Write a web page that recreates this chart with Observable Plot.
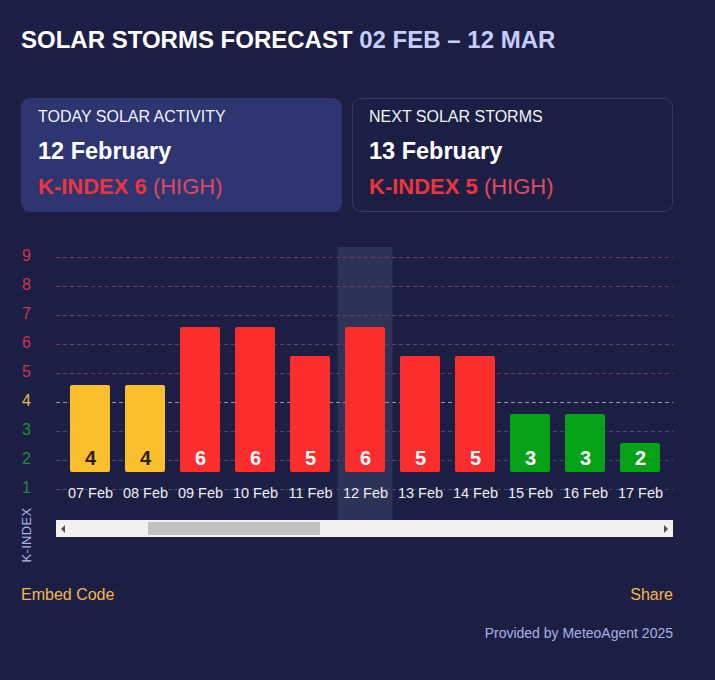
<!DOCTYPE html>
<html>
<head>
<meta charset="utf-8">
<script src="https://cdn.jsdelivr.net/npm/d3@7"></script>
<script src="https://cdn.jsdelivr.net/npm/@observablehq/plot@0.6"></script>
<style>
  html, body { margin: 0; padding: 0; }
  body { width: 715px; height: 680px; background: #1c1f43; font-family: "Liberation Sans", Arial, sans-serif; position: relative; overflow: hidden; }
  .abs { position: absolute; white-space: nowrap; }
  #title { left: 21px; top: 26px; font-size: 24px; font-weight: bold; color: #ffffff; }
  #title span { color: #c7cdff; }
  .card { position: absolute; top: 98px; width: 321px; height: 114px; border-radius: 9px; box-sizing: border-box; }
  #card1 { left: 21px; background: #2e3571; }
  #card2 { left: 352px; background: #1c1f43; border: 1px solid #33386a; }
  .card .lbl { position: absolute; left: 17px; top: 10px; font-size: 16px; color: #f2f3fa; }
  .card .date { position: absolute; left: 17px; top: 40px; font-size: 23.5px; font-weight: bold; color: #ffffff; }
  .card .k { position: absolute; left: 17px; top: 76px; font-size: 22px; color: #df4a62; }
  .card .k b { color: #ea3440; }
  #card2 .lbl { left: 16px; top: 9px; }
  #card2 .date { left: 16px; top: 39px; }
  #card2 .k { left: 16px; top: 75px; }
  #chart { position: absolute; left: 0; top: 240px; }
  #klabel { left: 26px; top: 535px; transform: translate(-50%, -50%) rotate(-90deg); font-size: 13px; color: #abb3ea; letter-spacing: 0.3px; }
  #track { position: absolute; left: 56px; top: 520px; width: 617px; height: 17px; background: #f1f1f1; }
  #thumb { position: absolute; left: 92px; top: 2px; width: 172px; height: 13px; background: #c1c1c1; }
  #arrL { position: absolute; left: 5px; top: 5px; width: 0; height: 0; border-top: 4px solid transparent; border-bottom: 4px solid transparent; border-right: 4px solid #505050; }
  #arrR { position: absolute; right: 5px; top: 5px; width: 0; height: 0; border-top: 4px solid transparent; border-bottom: 4px solid transparent; border-left: 4px solid #505050; }
  #embed { left: 21px; top: 586px; font-size: 16px; color: #f2b84f; }
  #share { right: 42px; top: 586px; font-size: 16px; color: #f2b84f; }
  #prov { right: 42px; top: 625px; font-size: 14px; color: #a9b1e4; }
</style>
</head>
<body>
<div id="title" class="abs">SOLAR STORMS FORECAST <span>02 FEB – 12 MAR</span></div>

<div id="card1" class="card">
  <div class="lbl">TODAY SOLAR ACTIVITY</div>
  <div class="date">12 February</div>
  <div class="k"><b>K-INDEX 6</b> (HIGH)</div>
</div>
<div id="card2" class="card">
  <div class="lbl">NEXT SOLAR STORMS</div>
  <div class="date">13 February</div>
  <div class="k"><b>K-INDEX 5</b> (HIGH)</div>
</div>

<div id="chart"></div>
<div id="klabel" class="abs">K-INDEX</div>
<div id="track"><div id="arrL"></div><div id="thumb"></div><div id="arrR"></div></div>

<div id="embed" class="abs">Embed Code</div>
<div id="share" class="abs">Share</div>
<div id="prov" class="abs">Provided by MeteoAgent 2025</div>

<script>
// ---- data ----
const dates = ["07 Feb", "08 Feb", "09 Feb", "10 Feb", "11 Feb", "12 Feb", "13 Feb", "14 Feb", "15 Feb", "16 Feb", "17 Feb"];
const kIndex = [4, 4, 6, 6, 5, 6, 5, 5, 3, 3, 2];
const levels = [1, 2, 3, 4, 5, 6, 7, 8, 9];
const today = ["12 Feb"];

// ---- helpers ----
const barColor = k => k >= 5 ? "#fc2d2d" : k === 4 ? "#fbbf2d" : "#05a116";
const labelColor = k => k >= 5 ? "#cb3652" : k === 4 ? "#e9b94d" : "#1f8a3c";
const gridColor = k => k >= 5 ? "#6c3a62" : k === 4 ? "#9a989c" : "#474a72";
const valueColor = k => k === 4 ? "#2b2118" : "#ffffff";

const rows = dates.map((d, i) => ({date: d, k: kIndex[i]}));
const baseline = 1;
const yDomain = [-0.655, 8.759];

const chart = Plot.plot({
  width: 715,
  height: 300,
  marginLeft: 62.5,
  marginRight: 47.5,
  marginTop: 7,
  marginBottom: 20,
  style: {background: "transparent", color: "#ffffff", fontFamily: "'Liberation Sans', Arial, sans-serif"},
  x: {type: "band", domain: dates, paddingInner: 0.27, paddingOuter: 0.135, axis: null},
  y: {domain: yDomain, axis: null},
  marks: [
    Plot.cell(today, {x: d => d, fill: "#2d3257", insetLeft: -7.4, insetRight: -7.4}),
    Plot.ruleY(levels, {y: d => d, dy: 17, stroke: d => gridColor(d), strokeDasharray: "4,3", strokeWidth: 1, insetLeft: -6.5, insetRight: -5.5}),
    Plot.text(levels, {y: d => d, text: d => String(d), frameAnchor: "left", dx: -36.5, dy: 15.5, textAnchor: "middle", fill: d => labelColor(d), fontSize: 16}),
    Plot.barY(rows, {x: "date", y1: baseline, y2: "k", fill: d => barColor(d.k), rx: 2}),
    Plot.text(rows, {x: "date", y: baseline, text: d => String(d.k), dy: -14, fill: d => valueColor(d.k), fontSize: 20, fontWeight: "bold"}),
    Plot.text(dates, {x: d => d, text: d => d, frameAnchor: "bottom", dy: -23, fill: "#eeeef6", fontSize: 14.5})
  ]
});
document.getElementById("chart").appendChild(chart);
</script>
</body>
</html>
